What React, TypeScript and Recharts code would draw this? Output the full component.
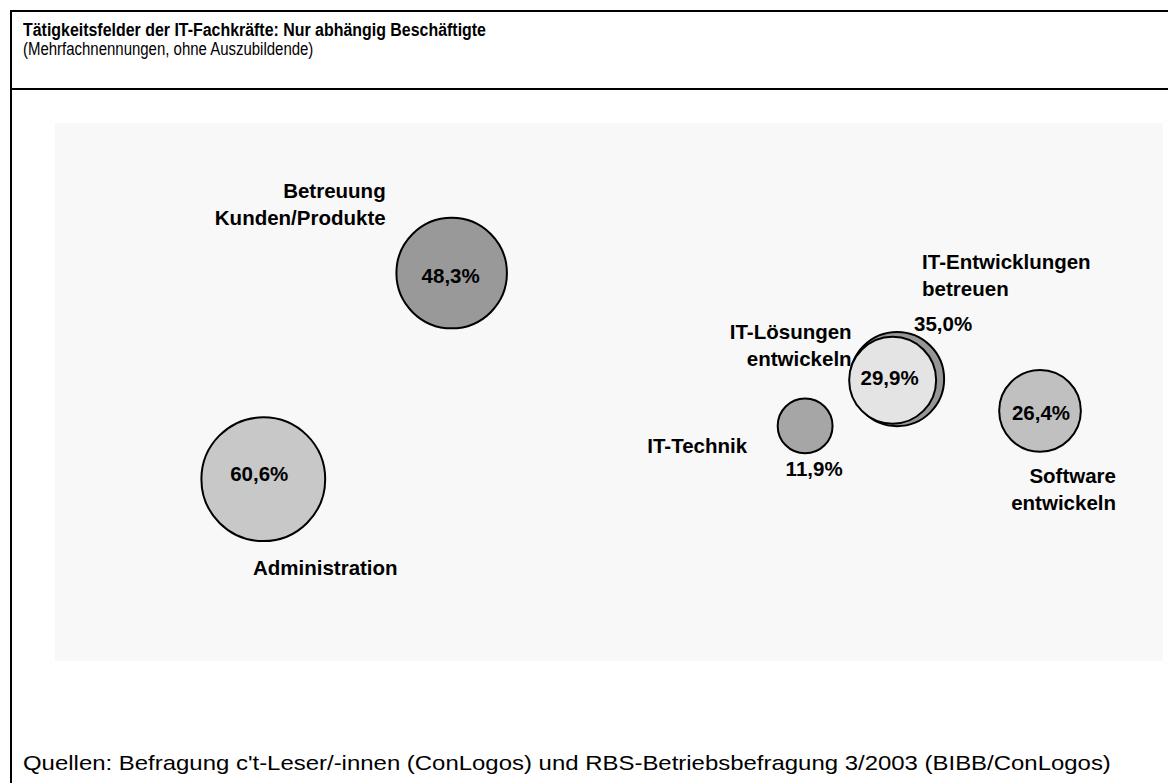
import React from 'react';
import { ScatterChart, Scatter, XAxis, YAxis, ZAxis, CartesianGrid } from 'recharts';

// bubble data (x/y are layout positions on a 0-100 grid, z = share in %)
const CATEGORIES = [
  'Betreuung\nKunden/Produkte',
  'Administration',
  'IT-Technik',
  'IT-Entwicklungen\nbetreuen',
  'IT-Lösungen\nentwickeln',
  'Software\nentwickeln',
];
const POS_X = [35.8, 18.8, 67.7, 76.0, 75.6, 88.9];
const POS_Y = [72.1, 33.8, 43.7, 52.4, 52.2, 46.5];
const SHARES = [48.3, 60.6, 11.9, 35.0, 29.9, 26.4];

const FILLS = ['#999999', '#c8c8c8', '#a6a6a6', '#969696', '#e4e4e4', '#c0c0c0'];

// label placement relative to bubble centre (px)
const LABEL_LAYOUT = [
  { anchor: 'end', nameDx: -66, nameDy: -83, valDx: -1, valDy: 2 },
  { anchor: 'middle', nameDx: 62, nameDy: 88, valDx: -4, valDy: -6 },
  { anchor: 'end', nameDx: -58, nameDy: 20, valDx: 9, valDy: 43 },
  { anchor: 'start', nameDx: 25, nameDy: -118, valDx: 46, valDy: -56 },
  { anchor: 'end', nameDx: -41, nameDy: -49, valDx: -3, valDy: -3 },
  { anchor: 'end', nameDx: 76, nameDy: 65, valDx: 1, valDy: 2 },
];

const FONT = '"Liberation Sans", Arial, sans-serif';
const LINE_GAP = 27;

const formatShare = (v: number) => `${v.toFixed(1).replace('.', ',')}%`;

const Bubble = (props: any) => {
  const { cx, cy, size, payload } = props;
  const r = Math.sqrt(size / Math.PI);
  const layout = LABEL_LAYOUT[payload.idx];
  const lines = String(payload.name).split('\n');
  const textStyle = { fontFamily: FONT, fontWeight: 'bold' as const, fontSize: 20.5, fill: '#000' };

  return (
    <g>
      <circle cx={cx} cy={cy} r={r} fill={FILLS[payload.idx]} stroke="#000" strokeWidth={2} />
      {lines.map((line, i) => (
        <text
          key={i}
          x={cx + layout.nameDx}
          y={cy + layout.nameDy + i * LINE_GAP}
          textAnchor={layout.anchor}
          dominantBaseline="central"
          style={textStyle}
        >
          {line}
        </text>
      ))}
      <text
        x={cx + layout.valDx}
        y={cy + layout.valDy}
        textAnchor="middle"
        dominantBaseline="central"
        style={textStyle}
      >
        {formatShare(payload.z)}
      </text>
    </g>
  );
};

export default function App() {
  const data = CATEGORIES.map((name, idx) => ({
    idx,
    name,
    x: POS_X[idx],
    y: POS_Y[idx],
    z: SHARES[idx],
  }));

  return (
    <div
      style={{
        position: 'absolute',
        left: 0,
        top: 0,
        width: 1168,
        height: 783,
        background: '#fff',
        fontFamily: FONT,
        overflow: 'hidden',
      }}
    >
      <ScatterChart width={1168} height={783} margin={{ top: 123, right: 5, bottom: 122, left: 55 }}>
        <CartesianGrid fill="#f8f8f8" horizontal={false} vertical={false} />
        <XAxis type="number" dataKey="x" domain={[0, 100]} hide />
        <YAxis type="number" dataKey="y" domain={[0, 100]} hide />
        <ZAxis type="number" dataKey="z" domain={[0, 100]} range={[0, 19860]} />
        <Scatter data={data} shape={Bubble} isAnimationActive={false} />
      </ScatterChart>

      {/* frame lines */}
      <div style={{ position: 'absolute', left: 10, top: 10, width: 1158, height: 2, background: '#000' }} />
      <div style={{ position: 'absolute', left: 10, top: 88, width: 1158, height: 2, background: '#000' }} />
      <div style={{ position: 'absolute', left: 10, top: 10, width: 2, height: 773, background: '#000' }} />

      <div
        style={{
          position: 'absolute', left: 23, top: 19, fontSize: 18, fontWeight: 'bold', lineHeight: '22px',
          whiteSpace: 'nowrap', transform: 'scaleX(0.885)', transformOrigin: 'left center',
        }}
      >
        Tätigkeitsfelder der IT-Fachkräfte: Nur abhängig Beschäftigte
      </div>
      <div
        style={{
          position: 'absolute', left: 23, top: 38, fontSize: 17.5, lineHeight: '22px',
          whiteSpace: 'nowrap', transform: 'scaleX(0.855)', transformOrigin: 'left center',
        }}
      >
        (Mehrfachnennungen, ohne Auszubildende)
      </div>
      <div
        style={{
          position: 'absolute', left: 23, top: 750, fontSize: 21, lineHeight: '26px',
          whiteSpace: 'nowrap', transform: 'scaleX(1.14)', transformOrigin: 'left center',
        }}
      >
        Quellen: Befragung c't-Leser/-innen (ConLogos) und RBS-Betriebsbefragung 3/2003 (BIBB/ConLogos)
      </div>
    </div>
  );
}
